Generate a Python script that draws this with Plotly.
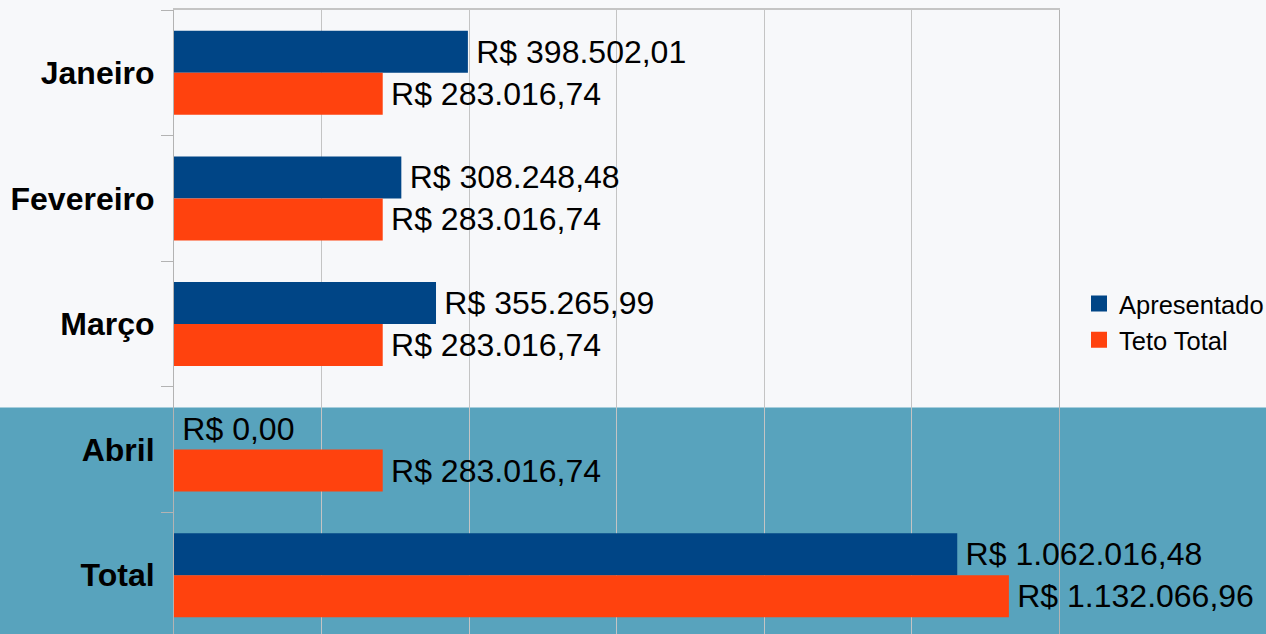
import plotly.graph_objects as go

categories = ["Janeiro", "Fevereiro", "Março", "Abril", "Total"]
apresentado = [398502.01, 308248.48, 355265.99, 0.00, 1062016.48]
teto_total = [283016.74, 283016.74, 283016.74, 283016.74, 1132066.96]
series_names = ["Apresentado", "Teto Total"]
colors = ["#004586", "#ff420e"]


def brl(v):
    s = f"{v:,.2f}"
    s = s.replace(",", "X").replace(".", ",").replace("X", ".")
    return "\u200a\u200aR$ " + s


FONT = "Liberation Sans"
fig = go.Figure()
for name, vals, col in zip(series_names, [apresentado, teto_total], colors):
    fig.add_trace(go.Bar(
        y=categories, x=vals, orientation="h", name=name,
        marker=dict(color=col, line=dict(width=0)),
        text=[brl(v) for v in vals], textposition="outside",
        textfont=dict(family=FONT, size=32, color="#000000"),
        constraintext="none", cliponaxis=False, showlegend=False,
    ))
    fig.add_trace(go.Scatter(
        x=[None], y=[None], mode="markers", name=name,
        marker=dict(symbol="square", size=16, color=col),
    ))

bargap = 0.331
ML, MR = 174, 207
W = 1266
fig.update_layout(
    width=W, height=634,
    margin=dict(l=ML, r=MR, t=10, b=0, autoexpand=False),
    paper_bgcolor="#f7f8fa",
    plot_bgcolor="rgba(0,0,0,0)",
    barmode="group", bargap=bargap, bargroupgap=0,
    font=dict(family=FONT, color="#000000"),
    showlegend=True,
    legend=dict(x=(W + 3 - ML) / (W - ML - MR), xref="paper", y=0.5,
                xanchor="right", yanchor="middle",
                font=dict(family=FONT, size=25.5, color="#000000"),
                bgcolor="rgba(0,0,0,0)", itemwidth=30),
    xaxis=dict(range=[0, 1200000], dtick=200000, showticklabels=False,
               side="top", showgrid=True, gridcolor="#c4c4c4", gridwidth=1,
               showline=True, linecolor="#c4c4c4", linewidth=2,
               zeroline=False, ticks=""),
    yaxis=dict(categoryorder="array", categoryarray=categories,
               range=[4.5 - 4 / 125.5, -0.5],
               tickson="boundaries", ticks="outside", ticklen=12,
               tickcolor="#b3b3b3", tickwidth=1,
               showline=True, linecolor="#b3b3b3", linewidth=1, mirror=True,
               showgrid=False, zeroline=False,
               tickfont=dict(family=FONT, size=32, color="#000000", weight="bold"),
               ticklabelstandoff=12),
    shapes=[dict(type="rect", xref="paper", yref="y",
                 x0=-0.3, x1=1.3, y0=3 - (1 - bargap) / 2, y1=6,
                 fillcolor="#58a3bd", line=dict(width=0), layer="below")],
)

fig.write_html(
    "out.html",
    config={"displayModeBar": False},
    post_script="document.body.style.margin='0';document.body.style.overflow='hidden';",
)
